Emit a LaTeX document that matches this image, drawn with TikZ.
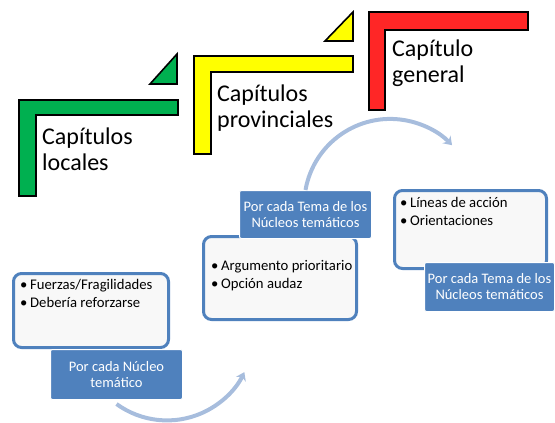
\documentclass[tikz,border=0pt]{standalone}
\usepackage{fontspec}
\setmainfont{Carlito}
\usepackage{tikz}
\usetikzlibrary{positioning,arrows.meta}

\definecolor{lgreen}{HTML}{00B050}
\definecolor{lyellow}{HTML}{FFFF00}
\definecolor{lred}{HTML}{FF2626}
\definecolor{accblue}{HTML}{4F81BD}
\definecolor{boxfill}{HTML}{F8F8F8}
\definecolor{arcblue}{RGB}{167,189,221}

\newcommand{\itm}[1]{\makebox[10pt][l]{\textbullet}#1}

\begin{document}
\begin{tikzpicture}[x=1pt, y=-1pt,
    >={Stealth[length=8pt,width=11pt]},
    stair/.style={draw=black, line width=1.6pt},
    big/.style={inner sep=0pt, align=left, font=\fontsize{24}{26}\selectfont},
    lbox/.style={%
      rectangle, draw=accblue, line width=3pt, fill=boxfill,
      rounded corners=8pt, anchor=north west
    },
    dbox/.style={%
      rectangle, draw=white, line width=1pt, fill=accblue, rounded corners=2pt,
      text=white, align=center, inner sep=0pt, font=\fontsize{14.5}{16}\selectfont
    },
    itemtxt/.style={inner sep=0pt, align=left, font=\fontsize{14.7}{18}\selectfont},
    flow/.style={->, draw=arcblue, line width=4pt}
]
\useasboundingbox (0,0) rectangle (555,423);

% stairs
\draw[stair, fill=lgreen] (19,100) -- (178,100) -- (178,115) -- (36,115) -- (36,196) -- (19,196) -- cycle;
\draw[stair, fill=lgreen] (177,54) -- (177,84) -- (150,84) -- cycle;
\draw[stair, fill=lyellow] (194,56) -- (353,56) -- (353,72) -- (211,72) -- (211,154) -- (194,154) -- cycle;
\draw[stair, fill=lyellow] (353,12) -- (353,41) -- (325,41) -- cycle;
\draw[stair, fill=lred] (369,12) -- (528,12) -- (528,30) -- (385,30) -- (385,110) -- (369,110) -- cycle;
\draw[stair, fill=lred] (528,-32) -- (528,-2) -- (500,-2) -- cycle;

% base = last line
\node[big, anchor=base west] (loc) at (42,170) {Capítulos\\locales};
\node[big, anchor=base west] (prov) at (217,127) {Capítulos\\provinciales};
\node[big, anchor=base west] (gen) at (392,82) {Capítulo\\general};

% boxes
\node[lbox, minimum width=155pt, minimum height=74pt] (lb1) at (12,272) {};
\node[lbox, minimum width=153pt, minimum height=83pt] (lb2) at (202,235) {};
\node[lbox, minimum width=152pt, minimum height=78pt] (lb3) at (393,189) {};

\node[dbox, minimum width=132pt, minimum height=50pt] (db1)
    [below right=0pt and 38pt of lb1.south west] {Por cada Núcleo\\temático};
\node[dbox, minimum width=132pt, minimum height=48pt] (db2)
    [above right=-4pt and 37pt of lb2.north west] {Por cada Tema de los\\Núcleos temáticos};
\node[dbox, minimum width=130pt, minimum height=49pt] (db3)
    [below right=-8pt and 31pt of lb3.south west] {Por cada Tema de los\\Núcleos temáticos};

\node[itemtxt, below right=35pt and 8pt of lb1.north west, anchor=base west] (t1)
    {\itm{Fuerzas/Fragilidades}\\\itm{Debería reforzarse}};
\node[itemtxt, below right=53pt and 9pt of lb2.north west, anchor=base west] (t2)
    {\itm{Argumento prioritario}\\\itm{Opción audaz}};
\node[itemtxt, below right=36pt and 7pt of lb3.north west, anchor=base west] (t3)
    {\itm{Líneas de acción}\\\itm{Orientaciones}};

% arcs
\coordinate[below=4pt of db1.south] (a2);
\draw[flow] (db2.north) arc[start angle=-170, end angle=-44, radius=86];
\draw[flow] (a2) arc[start angle=126, end angle=26, radius=86];

\end{tikzpicture}
\end{document}
